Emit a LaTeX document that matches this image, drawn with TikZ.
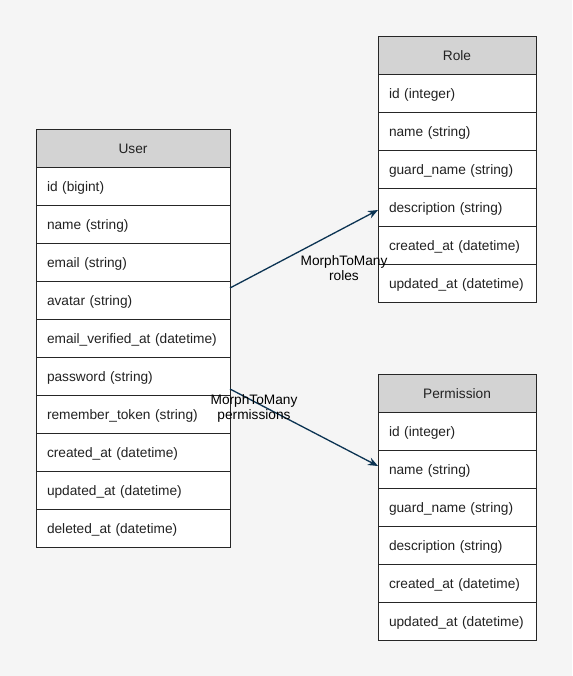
\documentclass[tikz,border=0pt]{standalone}
\usepackage{fontspec}
\setmainfont{Liberation Sans}
\usetikzlibrary{arrows.meta}
\definecolor{bgc}{HTML}{F5F5F5}
\definecolor{hdr}{HTML}{D3D3D3}
\definecolor{edgec}{HTML}{0B3352}
\definecolor{txt}{HTML}{222222}
\begin{document}
\begin{tikzpicture}[x=1pt,y=-1pt,
  cell/.style={draw=black!85,line width=0.9pt,fill=white,minimum height=38pt,outer sep=0pt,
    inner xsep=11pt,inner ysep=0pt,anchor=north west,font=\fontsize{13.7}{16}\selectfont,text=txt,
    text height=11pt,text depth=0.5pt},
  uhead/.style={cell,fill=hdr,text width=172pt,align=center},
  urow/.style={cell,text width=172pt,align=left},
  rhead/.style={cell,fill=hdr,text width=136pt,align=center},
  rrow/.style={cell,text width=136pt,align=left},
  rel/.style={draw=edgec,line width=1.3pt,-{Stealth[length=10pt,width=8pt]}},
  rlabel/.style={align=center,font=\fontsize{13.7}{15}\selectfont,text=black,inner sep=0pt}]
\fill[bgc] (0,0) rectangle (572,676);
\useasboundingbox (0,0) rectangle (572,676);
% User
\node[uhead] (uh) at (36,129) {User};
\node[urow] (u1) at (36,167) {id (bigint)};
\node[urow] (u2) at (36,205) {name (string)};
\node[urow] (u3) at (36,243) {email (string)};
\node[urow] (u4) at (36,281) {avatar (string)};
\node[urow] (u5) at (36,319) {email\_verified\_at (datetime)};
\node[urow] (u6) at (36,357) {password (string)};
\node[urow] (u7) at (36,395) {remember\_token (string)};
\node[urow] (u8) at (36,433) {created\_at (datetime)};
\node[urow] (u9) at (36,471) {updated\_at (datetime)};
\node[urow] (u10) at (36,509) {deleted\_at (datetime)};
% Role
\node[rhead] (rh) at (378,36) {Role};
\node[rrow] (r1) at (378,74) {id (integer)};
\node[rrow] (r2) at (378,112) {name (string)};
\node[rrow] (r3) at (378,150) {guard\_name (string)};
\node[rrow] (r4) at (378,188) {description (string)};
\node[rrow] (r5) at (378,226) {created\_at (datetime)};
\node[rrow] (r6) at (378,264) {updated\_at (datetime)};
% Permission
\node[rhead] (ph) at (378,374) {Permission};
\node[rrow] (p1) at (378,412) {id (integer)};
\node[rrow] (p2) at (378,450) {name (string)};
\node[rrow] (p3) at (378,488) {guard\_name (string)};
\node[rrow] (p4) at (378,526) {description (string)};
\node[rrow] (p5) at (378,564) {created\_at (datetime)};
\node[rrow] (p6) at (378,602) {updated\_at (datetime)};
% relations
\draw[rel] ([yshift=12pt]u4.east) -- ([yshift=-3pt]r4.west);
\draw[rel] ([yshift=-13pt]u6.east) -- ([yshift=3pt]p2.west);
\node[rlabel] (l1) at (344,268) {MorphToMany\\roles};
\node[rlabel] (l2) at (254,408) {MorphToMany\\permissions};
\end{tikzpicture}
\end{document}
